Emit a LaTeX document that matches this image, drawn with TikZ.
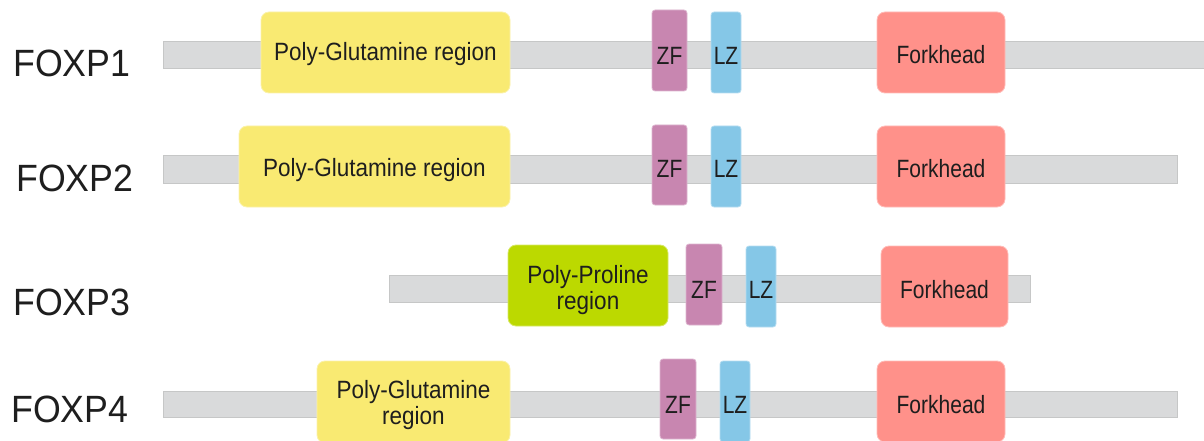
\documentclass[tikz,border=0pt]{standalone}
\usepackage{fontspec}
\setmainfont{Liberation Sans}
\newfontfamily\labfont{Liberation Sans}[FakeStretch=0.94]
\newfontfamily\domfont{Liberation Sans}[FakeStretch=0.9]
\newfontfamily\tightfont{Liberation Sans}[FakeStretch=0.84]

\definecolor{barfill}{HTML}{D9DADB}
\definecolor{barline}{HTML}{C6C7C7}
\definecolor{qfill}{HTML}{F9EA72}
\definecolor{pfill}{HTML}{BCD900}
\definecolor{zffill}{HTML}{C886B0}
\definecolor{lzfill}{HTML}{85C7E7}
\definecolor{fhfill}{HTML}{FF918A}
\definecolor{ink}{HTML}{1E1E1E}

% lower a line of text inside its box without changing the box size
\newcommand{\shiftdn}[2]{\raisebox{-#1pt}[\height][\depth]{#2}}

\tikzset{
  protbar/.style={rectangle, inner sep=0pt, outer sep=0pt, anchor=north west,
    fill=barfill, draw=barline, line width=0.8pt},
  dom/.style={rectangle, inner sep=0pt, outer sep=0pt, anchor=north west,
    align=center, text=ink, line width=0.8pt,
    font=\domfont\fontsize{25}{26}\selectfont},
  shortdom/.style={dom, font=\tightfont\fontsize{25}{26}\selectfont},
  polyq/.style={dom, fill=qfill, draw=qfill!60!white, rounded corners=8pt},
  polyp/.style={dom, fill=pfill, draw=pfill!60!white, rounded corners=8pt},
  zfbox/.style={shortdom, fill=zffill, draw=zffill!60!white, rounded corners=3pt},
  lzbox/.style={shortdom, fill=lzfill, draw=lzfill!60!white, rounded corners=3pt},
  fhbox/.style={shortdom, fill=fhfill, draw=fhfill!60!white, rounded corners=8pt},
  protname/.style={anchor=base west, inner sep=0pt, text=ink,
    font=\labfont\fontsize{38}{40}\selectfont}
}

\begin{document}
\begin{tikzpicture}[x=1pt, y=-1pt]
\useasboundingbox (0,0) rectangle (1204,441);
\clip (0,0) rectangle (1204,441);

% FOXP1
\node[protname] (n1) at (13,77) {FOXP1};
\node[protbar, minimum width=1060pt, minimum height=27pt] (b1) at (163,41) {};
\node[polyq, minimum width=249pt, minimum height=81pt] (q1) at (261,12) {\shiftdn{2}{Poly-Glutamine region}};
\node[zfbox, minimum width=35pt, minimum height=81pt] (zf1) at (652,10) {\shiftdn{5}{ZF}};
\node[lzbox, minimum width=30pt, minimum height=81pt] (lz1) at (711,12) {\shiftdn{3}{LZ}};
\node[fhbox, minimum width=128pt, minimum height=81pt] (fh1) at (877,12) {\shiftdn{2.5}{Forkhead}};

% FOXP2
\node[protname] (n2) at (16,191) {FOXP2};
\node[protbar, minimum width=1014pt, minimum height=28pt] (b2) at (163,155) {};
\node[polyq, minimum width=271pt, minimum height=81pt] (q2) at (239,126) {\shiftdn{4}{Poly-Glutamine region}};
\node[zfbox, minimum width=35pt, minimum height=80pt] (zf2) at (652,125) {\shiftdn{4}{ZF}};
\node[lzbox, minimum width=30pt, minimum height=81pt] (lz2) at (711,126) {\shiftdn{2.5}{LZ}};
\node[fhbox, minimum width=128pt, minimum height=81pt] (fh2) at (877,126) {\shiftdn{2.5}{Forkhead}};

% FOXP3
\node[protname] (n3) at (13,315) {FOXP3};
\node[protbar, minimum width=641pt, minimum height=27pt] (b3) at (389,275) {};
\node[polyp, minimum width=160pt, minimum height=81pt] (p3) at (508,245) {\shiftdn{5}{Poly-Proline}\\\shiftdn{5}{region}};
\node[zfbox, minimum width=36pt, minimum height=81pt] (zf3) at (686,244) {\shiftdn{5.5}{ZF}};
\node[lzbox, minimum width=30pt, minimum height=81pt] (lz3) at (746,246) {\shiftdn{3.5}{LZ}};
\node[fhbox, minimum width=127pt, minimum height=81pt] (fh3) at (881,246) {\shiftdn{3.5}{Forkhead}};

% FOXP4
\node[protname] (n4) at (11,422) {FOXP4};
\node[protbar, minimum width=1014pt, minimum height=26pt] (b4) at (163,391) {};
\node[polyq, minimum width=193pt, minimum height=82pt] (q4) at (317,361) {\shiftdn{3.5}{Poly-Glutamine}\\\shiftdn{3.5}{region}};
\node[zfbox, minimum width=36pt, minimum height=80pt] (zf4) at (660,359) {\shiftdn{5.5}{ZF}};
\node[lzbox, minimum width=30pt, minimum height=81pt] (lz4) at (720,361) {\shiftdn{3.5}{LZ}};
\node[fhbox, minimum width=128pt, minimum height=81pt] (fh4) at (877,361) {\shiftdn{3.5}{Forkhead}};
\end{tikzpicture}
\end{document}
